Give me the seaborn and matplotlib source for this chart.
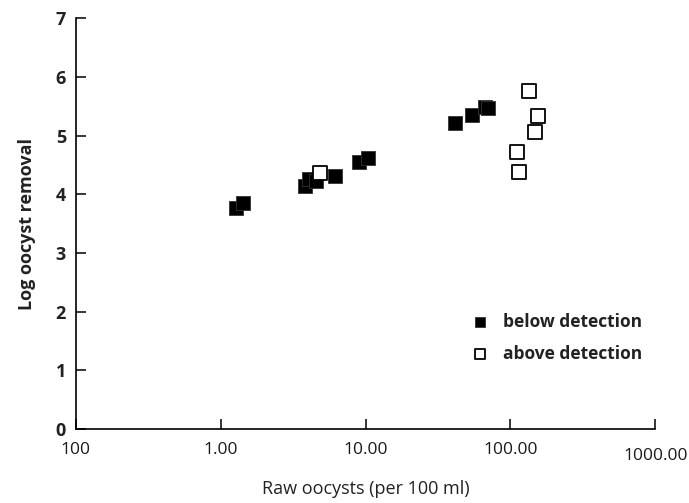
import numpy as np
import pandas as pd
import matplotlib
matplotlib.use("Agg")
import matplotlib.pyplot as plt
import matplotlib.transforms as mtransforms
import seaborn as sns

# data
below_raw = [1.27, 1.42, 3.82, 4.07, 4.55, 6.17, 9.05, 10.4, 41.2, 54.0, 66.5, 69.8]
below_removal = [3.77, 3.85, 4.14, 4.26, 4.22, 4.31, 4.55, 4.62, 5.21, 5.35, 5.49, 5.47]
above_raw = [4.85, 134, 155, 148, 111, 115]
above_removal = [4.36, 5.76, 5.33, 5.06, 4.72, 4.38]

x_ticks = [0.1, 1, 10, 100, 1000]
x_tick_labels = ["100", "1.00", "10.00", "100.00", "1000.00"]
y_ticks = [0, 1, 2, 3, 4, 5, 6, 7]

sns.set_style("ticks")
plt.rcParams["font.family"] = ["Open Sans", "DejaVu Sans"]

below = pd.DataFrame({"raw": below_raw, "removal": below_removal})
above = pd.DataFrame({"raw": above_raw, "removal": above_removal})

fig = plt.figure(figsize=(6.89, 5.03), dpi=100)
ax = fig.add_axes([0.110, 0.147, 0.841, 0.817])

sns.scatterplot(data=below, x="raw", y="removal", marker="s", s=105,
                color="black", edgecolor="#333333", linewidth=0.6,
                label="below detection", ax=ax)
sns.scatterplot(data=above, x="raw", y="removal", marker="s", s=95,
                facecolor="white", edgecolor="black", linewidth=1.3,
                label="above detection", ax=ax)

ax.set_xscale("log")
ax.set_xlim(0.1, 1000)
ax.set_ylim(0, 7)
ax.set_xticks(x_ticks)
ax.set_xticklabels(x_tick_labels)
ax.minorticks_off()
ax.set_yticks(y_ticks)

sns.despine(ax=ax)
for s in ["left", "bottom"]:
    ax.spines[s].set_linewidth(1.2)
    ax.spines[s].set_color("black")

ax.tick_params(axis="both", direction="in", length=7, width=1.1, color="black")
ax.tick_params(axis="x", pad=9, labelsize=12.5, labelcolor="#1a1a1a")
ax.tick_params(axis="y", pad=7, labelsize=13)
for lbl in ax.get_xticklabels():
    lbl.set_fontweight("medium")
for lbl in ax.get_yticklabels():
    lbl.set_fontweight("bold")
    lbl.set_color("#222222")

# last label sits a bit lower in the reference
last = ax.get_xticklabels()[-1]
last.set_transform(last.get_transform() +
                   mtransforms.ScaledTranslation(0, -6 / 100, fig.dpi_scale_trans))

ax.set_xlabel("Raw oocysts (per 100 ml)", fontsize=13, color="#222222", labelpad=12)
ax.set_ylabel("Log oocyst removal", fontsize=13, fontweight="bold",
              color="#222222", labelpad=14)

leg = ax.legend(loc="upper left", bbox_to_anchor=(0.655, 0.30), frameon=False,
                fontsize=12.5, handletextpad=0.35, labelspacing=0.8,
                markerscale=0.75, borderaxespad=0)
for t in leg.get_texts():
    t.set_fontweight("bold")
    t.set_color("#222222")

plt.savefig("out.png", dpi=100)
